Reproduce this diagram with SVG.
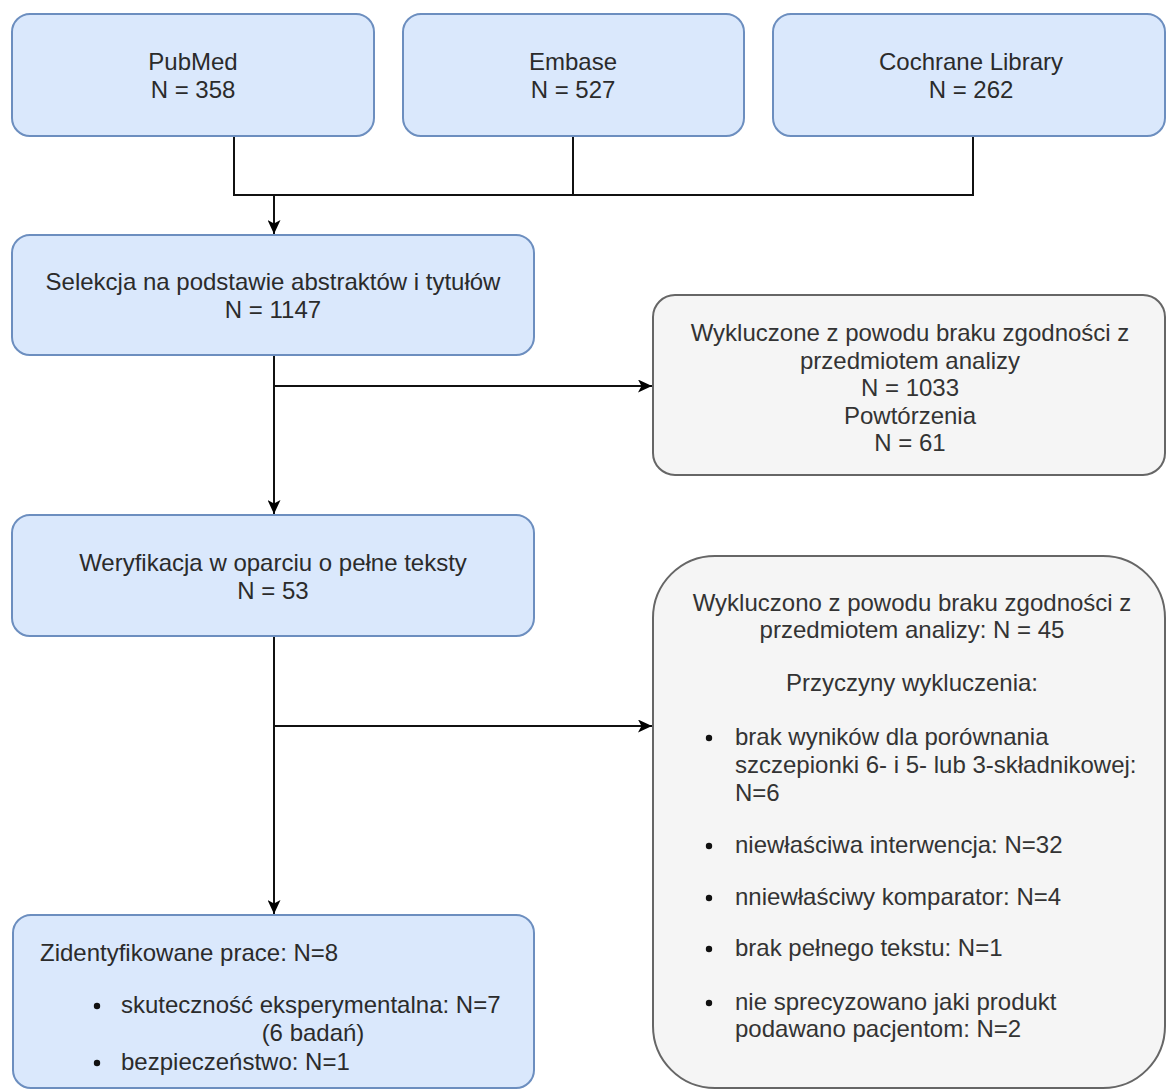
<svg xmlns="http://www.w3.org/2000/svg" width="1167" height="1091" viewBox="0 0 1167 1091">
<defs>
<marker id="arr" markerUnits="userSpaceOnUse" markerWidth="15" markerHeight="13" refX="14" refY="6.5" orient="auto">
<path d="M0,0 L14,6.5 L0,13 L3.5,6.5 Z" fill="#000"/>
</marker>
</defs>
<style>
.blue{fill:#dae8fc;stroke:#6c8ebf;stroke-width:2}
.gray{fill:#f5f5f5;stroke:#666666;stroke-width:2}
.t{font-family:"Liberation Sans",Arial,sans-serif;font-size:24px;fill:#2b2b2b}
.tg{font-family:"Liberation Sans",Arial,sans-serif;font-size:24px;fill:#333333}
.c{text-anchor:middle}
.ln{fill:none;stroke:#111;stroke-width:2}
.dot{fill:#111}
</style>
<rect width="1167" height="1091" fill="#ffffff"/>

<g id="connectors">
<polyline class="ln" points="234,136 234,195 973,195 973,136"/>
<line class="ln" x1="573" y1="136" x2="573" y2="195"/>
<line class="ln" x1="274" y1="195" x2="274" y2="234" marker-end="url(#arr)"/>
<line class="ln" x1="274" y1="355" x2="274" y2="514" marker-end="url(#arr)"/>
<line class="ln" x1="274" y1="386" x2="652" y2="386" marker-end="url(#arr)"/>
<line class="ln" x1="274" y1="636" x2="274" y2="914" marker-end="url(#arr)"/>
<line class="ln" x1="274" y1="726" x2="652" y2="726" marker-end="url(#arr)"/>
</g>

<g id="pubmed">
<rect class="blue" x="12" y="14" width="362" height="122" rx="18"/>
<text class="t c" x="193" y="70">PubMed</text>
<text class="t c" x="193" y="98">N = 358</text>
</g>

<g id="embase">
<rect class="blue" x="403" y="14" width="341" height="122" rx="18"/>
<text class="t c" x="573" y="70">Embase</text>
<text class="t c" x="573" y="98">N = 527</text>
</g>

<g id="cochrane">
<rect class="blue" x="773" y="14" width="392" height="122" rx="18"/>
<text class="t c" x="971" y="70">Cochrane Library</text>
<text class="t c" x="971" y="98">N = 262</text>
</g>

<g id="selekcja">
<rect class="blue" x="12" y="235" width="522" height="120" rx="18"/>
<text class="t c" x="273" y="290">Selekcja na podstawie abstraktów i tytułów</text>
<text class="t c" x="273" y="318">N = 1147</text>
</g>

<g id="wykluczone1">
<rect class="gray" x="653" y="295" width="512" height="180" rx="22"/>
<text class="tg c" x="910" y="341">Wykluczone z powodu braku zgodności z</text>
<text class="tg c" x="910" y="368.5">przedmiotem analizy</text>
<text class="tg c" x="910" y="396">N = 1033</text>
<text class="tg c" x="910" y="423.5">Powtórzenia</text>
<text class="tg c" x="910" y="451">N = 61</text>
</g>

<g id="weryfikacja">
<rect class="blue" x="12" y="515" width="522" height="121" rx="18"/>
<text class="t c" x="273" y="571">Weryfikacja w oparciu o pełne teksty</text>
<text class="t c" x="273" y="599">N = 53</text>
</g>

<g id="wykluczono2">
<rect class="gray" x="653" y="556" width="512" height="532" rx="62"/>
<text class="tg c" x="912" y="611">Wykluczono z powodu braku zgodności z</text>
<text class="tg c" x="912" y="638">przedmiotem analizy: N = 45</text>
<text class="tg c" x="912" y="691">Przyczyny wykluczenia:</text>
<circle class="dot" cx="709" cy="738" r="3.2"/>
<text class="tg" x="735" y="745">brak wyników dla porównania</text>
<text class="tg" x="735" y="773">szczepionki 6- i 5- lub 3-składnikowej:</text>
<text class="tg" x="735" y="801">N=6</text>
<circle class="dot" cx="709" cy="846" r="3.2"/>
<text class="tg" x="735" y="853">niewłaściwa interwencja: N=32</text>
<circle class="dot" cx="709" cy="898" r="3.2"/>
<text class="tg" x="735" y="905">nniewłaściwy komparator: N=4</text>
<circle class="dot" cx="709" cy="949" r="3.2"/>
<text class="tg" x="735" y="956">brak pełnego tekstu: N=1</text>
<circle class="dot" cx="709" cy="1003" r="3.2"/>
<text class="tg" x="735" y="1010">nie sprecyzowano jaki produkt</text>
<text class="tg" x="735" y="1037">podawano pacjentom: N=2</text>
</g>

<g id="zidentyfikowane">
<rect class="blue" x="13" y="915" width="521" height="173" rx="18"/>
<text class="t" x="40" y="961">Zidentyfikowane prace: N=8</text>
<circle class="dot" cx="97" cy="1006" r="3.2"/>
<text class="t" x="121" y="1013">skuteczność eksperymentalna: N=7</text>
<text class="t c" x="313" y="1041">(6 badań)</text>
<circle class="dot" cx="97" cy="1063" r="3.2"/>
<text class="t" x="121" y="1070">bezpieczeństwo: N=1</text>
</g>
</svg>
